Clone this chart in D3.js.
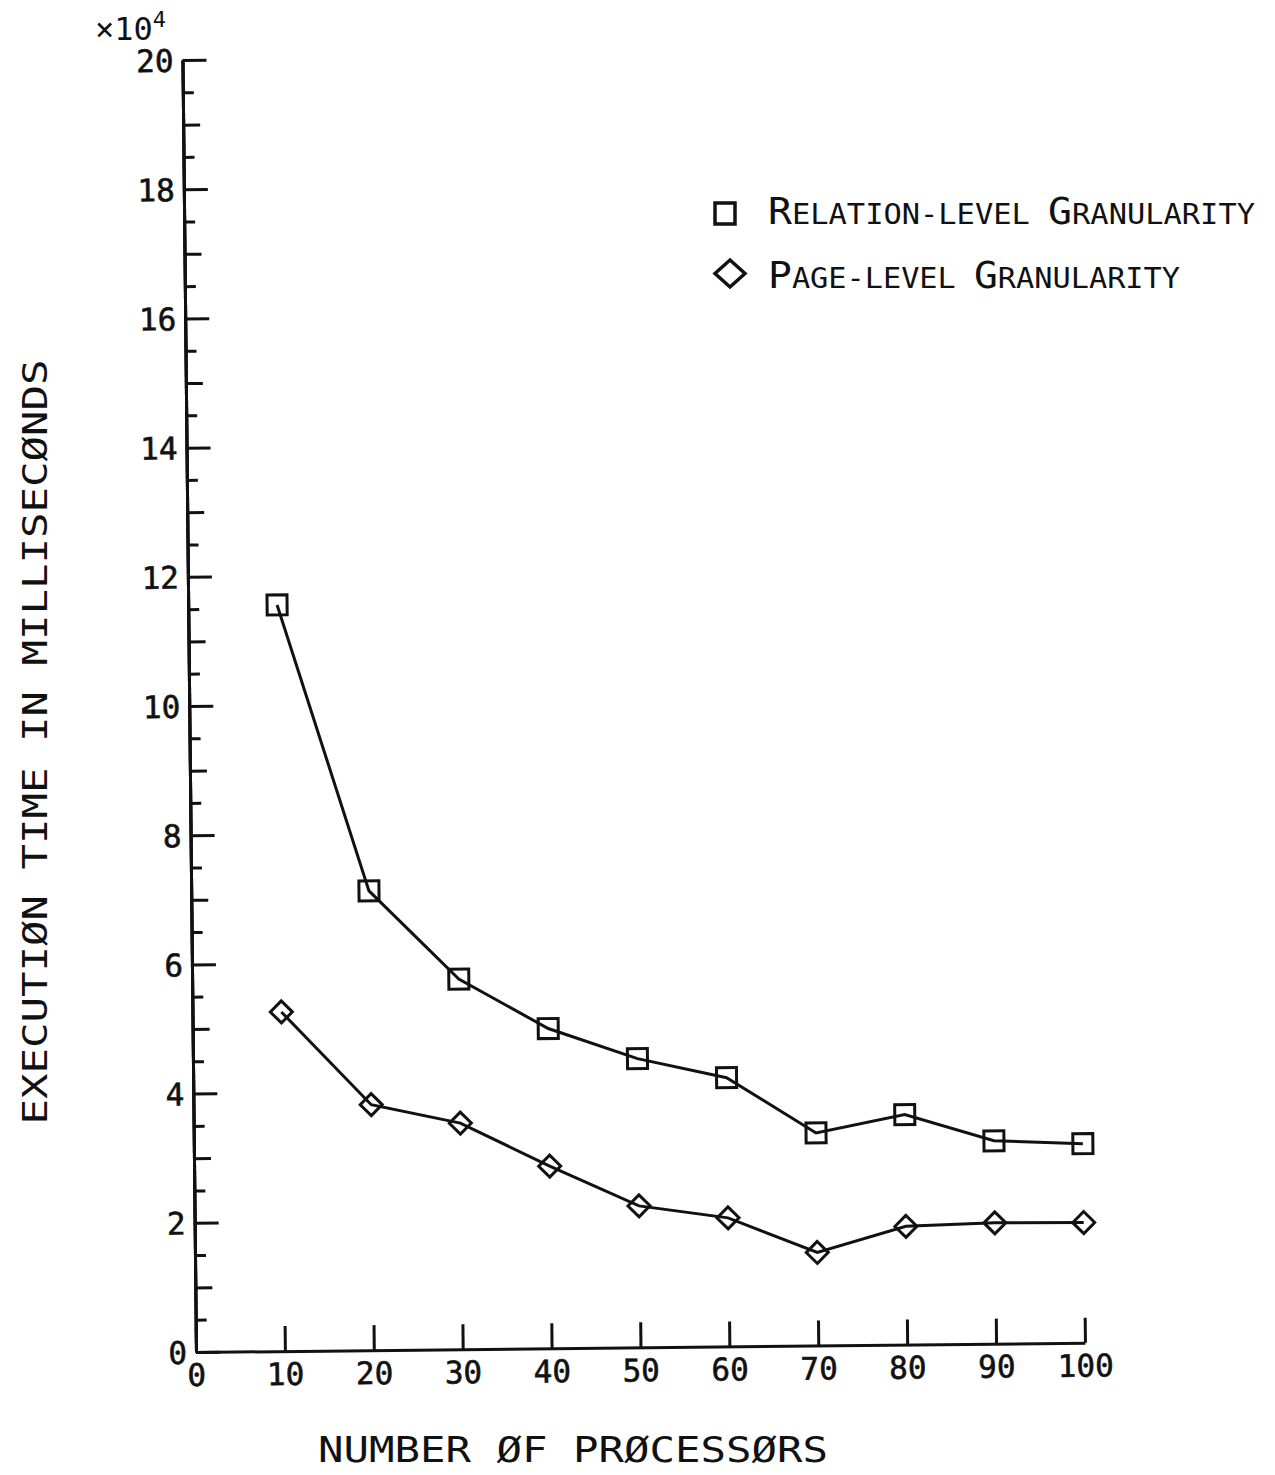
<!DOCTYPE html>
<html>
<head>
<meta charset="utf-8">
<script src="https://cdn.jsdelivr.net/npm/d3@7"></script>
<style>
  html, body { margin: 0; padding: 0; background: #fff; }
  text { font-family: "DejaVu Sans Mono", "Liberation Mono", monospace; fill: #111; }
</style>
</head>
<body>
<div id="chart"></div>
<script>
// data (execution time, x10^4 ms)
const processors = [10, 20, 30, 40, 50, 60, 70, 80, 90, 100]
const relationLevel = [11.55, 7.11, 5.73, 4.95, 4.47, 4.16, 3.29, 3.56, 3.14, 3.08]
const pageLevel = [5.25, 3.80, 3.50, 2.82, 2.19, 1.99, 1.44, 1.83, 1.87, 1.86]

const xTicks = [0, 10, 20, 30, 40, 50, 60, 70, 80, 90, 100]
const yMajor = [0, 2, 4, 6, 8, 10, 12, 14, 16, 18, 20]
const yMid = [1, 3, 5, 7, 9, 11, 13, 15, 17, 19]
const yMinor = d3.range(0.5, 20, 1)

// legend text split into big / small capitals
const seriesNames = [
    [["R", 1], ["ELATION-LEVEL ", 0], ["G", 1], ["RANULARITY", 0]],
    [["P", 1], ["AGE-LEVEL ", 0], ["G", 1], ["RANULARITY", 0]]
]

const width = 1275
const height = 1475
const plotW = 889
const plotH = 1292

const svg = d3.select("#chart")
    .append("svg")
    .attr("width", width)
    .attr("height", height)

svg.append("rect").attr("width", width).attr("height", height).attr("fill", "#fff")

// the scan is tilted a little, so the plot frame is rotated about its origin
const g = svg.append("g")
    .attr("transform", "translate(196,1352) rotate(-0.6)")

const x = d3.scaleLinear().domain([0, 100]).range([0, plotW])
const y = d3.scaleLinear().domain([0, 20]).range([0, -plotH])

// y axis: three tick lengths
g.append("g")
    .call(d3.axisLeft(y).tickValues(yMinor).tickSizeInner(-11).tickSizeOuter(0).tickFormat(""))
g.append("g")
    .call(d3.axisLeft(y).tickValues(yMid).tickSizeInner(-17).tickSizeOuter(0).tickFormat(""))
const yAx = g.append("g")
    .call(d3.axisLeft(y).tickValues(yMajor).tickSizeInner(-24).tickSizeOuter(0).tickPadding(9))

// x axis
const xAx = g.append("g")
    .call(d3.axisBottom(x).tickValues(xTicks).tickSizeInner(-25).tickSizeOuter(0).tickPadding(12))

g.selectAll(".domain, .tick line")
    .attr("stroke", "#111")
    .attr("stroke-width", 3)

g.selectAll(".tick text")
    .attr("font-family", "DejaVu Sans Mono")
    .attr("font-size", 31)
    .attr("fill", "#111")
    .attr("stroke", "#111")
    .attr("stroke-width", 0.6)

yAx.selectAll(".tick text").attr("dy", "0.36em")

// series
const line = d3.line()
    .x((d, i) => x(processors[i]))
    .y(d => y(d))

g.append("path")
    .datum(relationLevel)
    .attr("d", line)
    .attr("fill", "none")
    .attr("stroke", "#111")
    .attr("stroke-width", 3)

g.append("path")
    .datum(pageLevel)
    .attr("d", line)
    .attr("fill", "none")
    .attr("stroke", "#111")
    .attr("stroke-width", 3)

const sq = 20
g.selectAll(".sq")
    .data(relationLevel)
    .enter()
    .append("rect")
    .attr("x", (d, i) => x(processors[i]) - sq / 2)
    .attr("y", d => y(d) - sq / 2)
    .attr("width", sq)
    .attr("height", sq)
    .attr("fill", "none")
    .attr("stroke", "#111")
    .attr("stroke-width", 3)

const diamond = r => `M0,${-r}L${r},0L0,${r}L${-r},0Z`
g.selectAll(".dm")
    .data(pageLevel)
    .enter()
    .append("path")
    .attr("d", diamond(11))
    .attr("transform", (d, i) => `translate(${x(processors[i])},${y(d)})`)
    .attr("fill", "none")
    .attr("stroke", "#111")
    .attr("stroke-width", 3)

// exponent
const expo = svg.append("text")
    .attr("x", 95)
    .attr("y", 40)
    .attr("font-size", 32)
expo.append("tspan").text("×10")
expo.append("tspan").attr("font-size", 22).attr("dy", -13).text("4")

// legend
svg.append("rect")
    .attr("x", 715).attr("y", 203)
    .attr("width", 20).attr("height", 21)
    .attr("fill", "none").attr("stroke", "#111").attr("stroke-width", 3.5)
svg.append("path")
    .attr("d", "M730,260L745,273.5L730,287L715,273.5Z")
    .attr("fill", "none").attr("stroke", "#111").attr("stroke-width", 3.5)

const legendY = [224, 288]
const legendW = [487, 412]
seriesNames.forEach((parts, k) => {
    const t = svg.append("text")
        .attr("x", 768).attr("y", legendY[k])
        .attr("textLength", legendW[k])
        .attr("lengthAdjust", "spacingAndGlyphs")
    parts.forEach(p => {
        t.append("tspan")
            .attr("font-size", p[1] ? 38 : 29)
            .text(p[0])
    })
})

// axis titles
svg.append("text")
    .attr("transform", "translate(47,742) rotate(-90)")
    .attr("text-anchor", "middle")
    .attr("font-size", 33)
    .attr("textLength", 765)
    .attr("lengthAdjust", "spacingAndGlyphs")
    .text("EXECUTIØN TIME IN MILLISECØNDS")

svg.append("text")
    .attr("x", 318).attr("y", 1462)
    .attr("font-size", 35)
    .attr("textLength", 510)
    .attr("lengthAdjust", "spacingAndGlyphs")
    .text("NUMBER ØF PRØCESSØRS")
</script>
</body>
</html>
